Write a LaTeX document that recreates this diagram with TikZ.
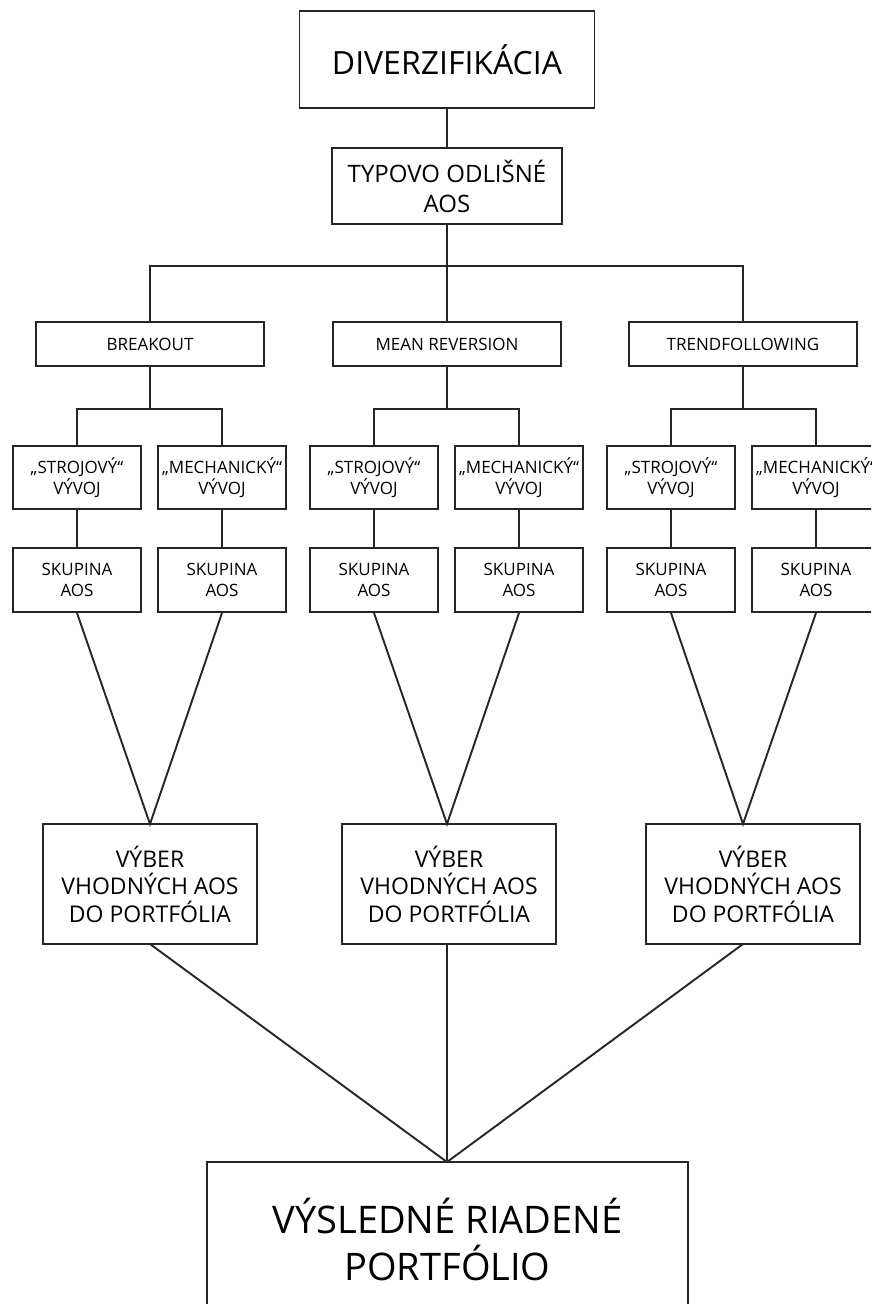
\documentclass[tikz,border=0pt]{standalone}
\usepackage{fontspec}
\setmainfont{Open Sans}
\usetikzlibrary{calc}
\begin{document}
\begin{tikzpicture}[x=1pt,y=-1pt,
  box/.style={draw=black!85,line width=1.9pt,rectangle,inner sep=0pt,align=center,text=black},
  big/.style={box,font=\fontsize{32}{38}\selectfont},
  mid/.style={box,font=\fontsize{24}{30}\selectfont},
  small/.style={box,font=\fontsize{17}{21}\selectfont},
  sel/.style={box,font=\fontsize{23}{27.5}\selectfont,minimum width=214pt,minimum height=120pt},
  lvthree/.style={small,minimum width=128pt,minimum height=63pt},
  lvtwo/.style={small,minimum width=228pt,minimum height=44pt},
  conn/.style={draw=black!85,line width=1.9pt}]
\useasboundingbox (0,0) rectangle (871,1304);
\clip (0,0) rectangle (871,1304);
\fill[white] (0,0) rectangle (871,1304);

\node[big,minimum width=295pt,minimum height=97pt] (div) at (447,59.5) {DIVERZIFIKÁCIA};
\node[mid,minimum width=230pt,minimum height=76pt] (typ) at (447,186) {TYPOVO ODLIŠNÉ\\AOS};

\node[lvtwo] (bo) at (150,344) {BREAKOUT};
\node[lvtwo] (mr) at (447,344) {MEAN REVERSION};
\node[lvtwo] (tf) at (743,344) {TRENDFOLLOWING};

\node[lvthree] (s1) at (77,477.5) {„STROJOVÝ“\\VÝVOJ};
\node[lvthree] (m1) at (222,477.5) {„MECHANICKÝ“\\VÝVOJ};
\node[lvthree] (s2) at (374,477.5) {„STROJOVÝ“\\VÝVOJ};
\node[lvthree] (m2) at (519,477.5) {„MECHANICKÝ“\\VÝVOJ};
\node[lvthree] (s3) at (671,477.5) {„STROJOVÝ“\\VÝVOJ};
\node[lvthree] (m3) at (816,477.5) {„MECHANICKÝ“\\VÝVOJ};

\node[lvthree,minimum height=64pt] (ks1) at (77,580) {SKUPINA\\AOS};
\node[lvthree,minimum height=64pt] (km1) at (222,580) {SKUPINA\\AOS};
\node[lvthree,minimum height=64pt] (ks2) at (374,580) {SKUPINA\\AOS};
\node[lvthree,minimum height=64pt] (km2) at (519,580) {SKUPINA\\AOS};
\node[lvthree,minimum height=64pt] (ks3) at (671,580) {SKUPINA\\AOS};
\node[lvthree,minimum height=64pt] (km3) at (816,580) {SKUPINA\\AOS};

\node[sel] (v1) at (150,884) {VÝBER\\VHODNÝCH AOS\\DO PORTFÓLIA};
\node[sel] (v2) at (449,884) {VÝBER\\VHODNÝCH AOS\\DO PORTFÓLIA};
\node[sel] (v3) at (753,884) {VÝBER\\VHODNÝCH AOS\\DO PORTFÓLIA};

\node[box,font=\fontsize{38}{47}\selectfont,minimum width=481pt,minimum height=154pt] (fin) at (447.5,1239) {VÝSLEDNÉ RIADENÉ\\PORTFÓLIO};

% top connectors
\draw[conn] (div.south) -- (typ.north);
\coordinate (barc) at (447,266);
\draw[conn] (typ.south) -- (barc);
\draw[conn] (bo.north) |- (barc) -| (tf.north);
\draw[conn] (barc) -- (mr.north);

% second level
\foreach \p/\s/\m in {bo/s1/m1, mr/s2/m2, tf/s3/m3}{
  \coordinate (\p b) at ($(\p.south)+(0,42)$);
  \draw[conn] (\p.south) -- (\p b);
  \draw[conn] (\s.north) |- (\p b) -| (\m.north);
}
\foreach \a/\b in {s1/ks1, m1/km1, s2/ks2, m2/km2, s3/ks3, m3/km3}{
  \draw[conn] (\a.south) -- (\b.north);
}

% converging
\coordinate (a1) at (150,824);
\coordinate (a2) at (447,824);
\coordinate (a3) at (743,824);
\draw[conn] (ks1.south) -- (a1) -- (km1.south);
\draw[conn] (ks2.south) -- (a2) -- (km2.south);
\draw[conn] (ks3.south) -- (a3) -- (km3.south);

\coordinate (b1) at (150,944);
\coordinate (b2) at (447,944);
\coordinate (b3) at (743,944);
\coordinate (ap) at (447,1162);
\draw[conn] (b1) -- (ap);
\draw[conn] (b2) -- (ap);
\draw[conn] (b3) -- (ap);
\end{tikzpicture}
\end{document}
